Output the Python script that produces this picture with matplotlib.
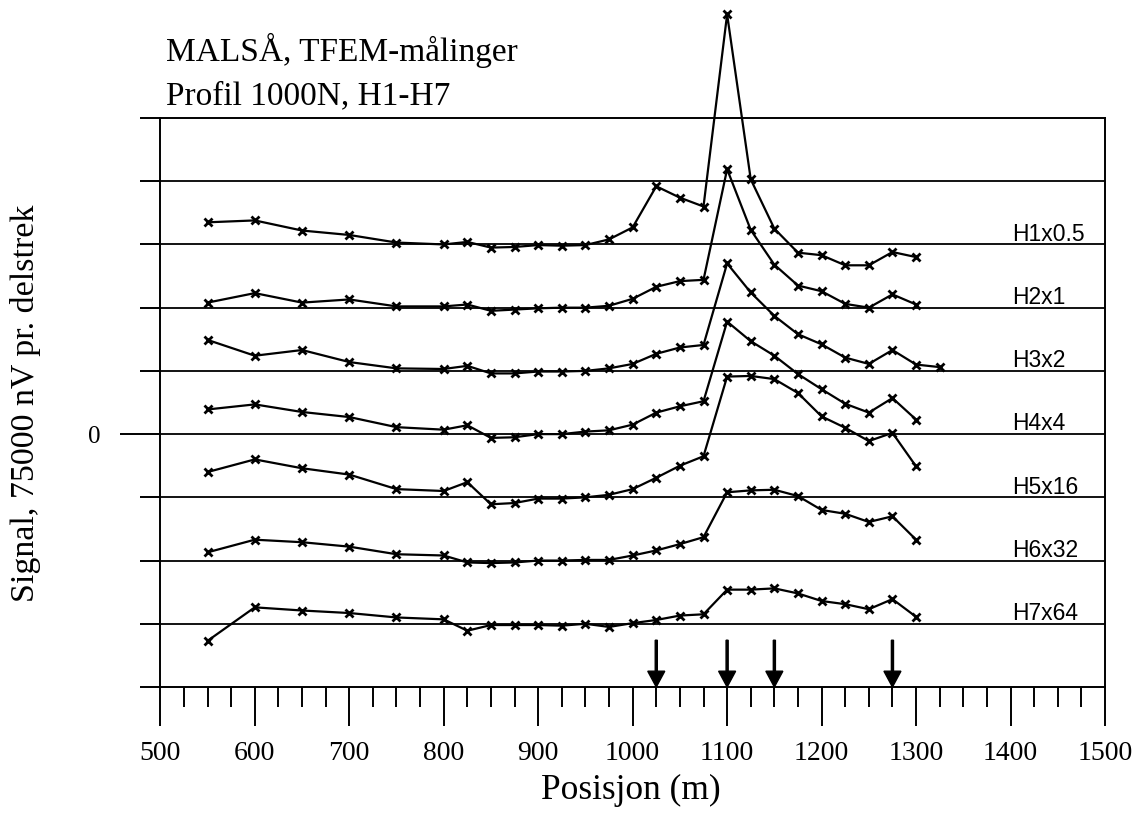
import matplotlib
matplotlib.use("Agg")
import matplotlib.pyplot as plt

# ---- data ----
positions = [550, 600, 650, 700, 750, 800, 825, 850, 875, 900, 925, 950, 975,
             1000, 1025, 1050, 1075, 1100, 1125, 1150, 1175, 1200, 1225, 1250, 1275, 1300]
positions_h3 = positions + [1325]

h1 = [0.35, 0.38, 0.22, 0.15, 0.03, 0.00, 0.04, -0.05, -0.04, -0.01, -0.02, -0.01, 0.08,
      0.27, 0.92, 0.74, 0.60, 3.64, 1.03, 0.25, -0.13, -0.17, -0.33, -0.33, -0.12, -0.20]
h2 = [0.08, 0.23, 0.08, 0.13, 0.02, 0.02, 0.05, -0.05, -0.03, -0.01, 0.00, 0.00, 0.03,
      0.14, 0.33, 0.42, 0.44, 2.19, 1.23, 0.68, 0.35, 0.26, 0.06, 0.00, 0.21, 0.05]
h3 = [0.49, 0.24, 0.33, 0.14, 0.04, 0.03, 0.08, -0.04, -0.04, -0.01, -0.01, 0.00, 0.04,
      0.11, 0.27, 0.37, 0.41, 1.70, 1.24, 0.87, 0.58, 0.42, 0.21, 0.11, 0.33, 0.10, 0.06]
h4 = [0.39, 0.47, 0.35, 0.27, 0.11, 0.07, 0.14, -0.06, -0.05, 0.00, 0.00, 0.04, 0.06,
      0.15, 0.34, 0.44, 0.52, 1.78, 1.47, 1.24, 0.95, 0.71, 0.48, 0.34, 0.57, 0.23]
h5 = [0.40, 0.60, 0.46, 0.36, 0.13, 0.10, 0.24, -0.11, -0.09, -0.02, -0.02, 0.00, 0.04,
      0.13, 0.31, 0.50, 0.65, 1.91, 1.92, 1.87, 1.65, 1.28, 1.10, 0.89, 1.02, 0.49]
h6 = [0.13, 0.33, 0.29, 0.22, 0.10, 0.08, -0.03, -0.04, -0.03, 0.00, 0.00, 0.01, 0.01,
      0.08, 0.16, 0.26, 0.37, 1.08, 1.11, 1.12, 1.02, 0.80, 0.74, 0.61, 0.70, 0.33]
h7 = [-0.27, 0.26, 0.21, 0.17, 0.10, 0.07, -0.11, -0.02, -0.02, -0.02, -0.03, 0.00, -0.05,
      0.01, 0.06, 0.13, 0.15, 0.54, 0.54, 0.56, 0.48, 0.36, 0.31, 0.23, 0.39, 0.11]

series = [h1, h2, h3, h4, h5, h6, h7]
series_x = [positions, positions, positions_h3, positions, positions, positions, positions]
baselines = [3, 2, 1, 0, -1, -2, -3]
series_labels = ["H1x0.5", "H2x1", "H3x2", "H4x4", "H5x16", "H6x32", "H7x64"]
arrow_positions = [1025, 1100, 1150, 1275]
x_ticks = [500, 600, 700, 800, 900, 1000, 1100, 1200, 1300, 1400, 1500]

SERIF = "Liberation Serif"
SANS = "Liberation Sans"

W, H = 1137, 816
fig = plt.figure(figsize=(W / 100, H / 100), dpi=100)
ax = fig.add_axes([160.3 / W, (H - 687) / H, (1105 - 160.3) / W, (687 - 118) / H])

ax.set_xlim(500, 1500)
ax.set_ylim(-4, 5)

# horizontal reference lines
for lvl in range(-3, 5):
    ax.axhline(lvl, color="black", lw=1.3, zorder=1)

# traces
for xs, ys, b in zip(series_x, series, baselines):
    ax.plot(xs, [b + v for v in ys], color="black", lw=1.6, marker="x",
            ms=6, mew=2.0, clip_on=False, zorder=3)

# trace labels
for lab, b in zip(series_labels, baselines):
    ax.text(1402, b + 0.06, lab, family=SANS, fontsize=16.5, va="baseline",
            ha="left", zorder=4)

# arrows
for xa in arrow_positions:
    ax.arrow(xa, -3.26, 0, -0.74, width=2.2, head_width=18, head_length=0.25,
             length_includes_head=True, color="black", zorder=4)

# spines
for s in ax.spines.values():
    s.set_linewidth(1.4)

# ticks
ax.set_xticks(x_ticks)
ax.set_xticklabels([str(t) for t in x_ticks], family=SERIF, fontsize=20)
ax.set_xticks(range(500, 1501, 25), minor=True)
ax.tick_params(axis="x", which="major", length=28, width=1.4, direction="out", pad=11)
ax.tick_params(axis="x", which="minor", length=14.4, width=1.4, direction="out")

ax.set_yticks([0])
ax.set_yticklabels(["0"], family=SERIF, fontsize=18)
ax.set_yticks([-4, -3, -2, -1, 1, 2, 3, 4, 5], minor=True)
ax.tick_params(axis="y", which="major", length=29, width=1.4, direction="out", pad=14)
ax.tick_params(axis="y", which="minor", length=14.4, width=1.4, direction="out")

# axis labels
fig.text(631 / W, 1 - 790 / H, "Posisjon (m)", family=SERIF, fontsize=25.5,
         ha="center", va="center")
fig.text(26 / W, 1 - 403 / H, "Signal, 75000 nV pr. delstrek", family=SERIF,
         fontsize=24.5, rotation=90, ha="center", va="center")

# title
fig.text(166 / W, 1 - 61 / H, "MALSÅ, TFEM-målinger", family=SERIF, fontsize=24,
         va="baseline", ha="left")
fig.text(166 / W, 1 - 104 / H, "Profil 1000N, H1-H7", family=SERIF, fontsize=24,
         va="baseline", ha="left")

fig.savefig("out.png", dpi=100)
